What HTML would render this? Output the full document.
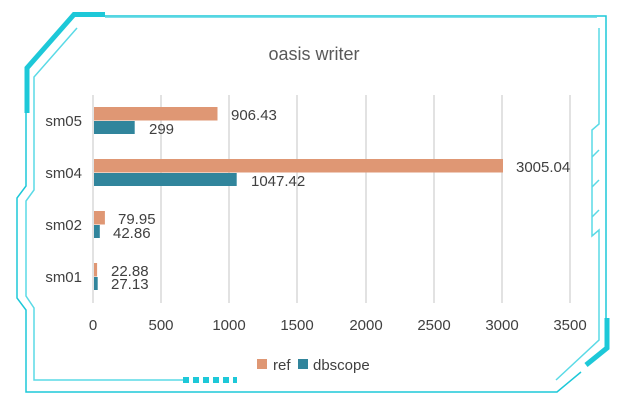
<!DOCTYPE html>
<html><head><style>body{margin:0;background:#fff}svg{display:block}text{font-family:"Liberation Sans",sans-serif}</style></head><body>
<svg width="628" height="414" viewBox="0 0 628 414" xmlns="http://www.w3.org/2000/svg">
<g fill="none" stroke="#1DC8D8">
<path d="M105 16 H606 V318" stroke-width="1.5"/>
<path d="M105 17.5 H597" stroke="#7FE0EA" stroke-width="1"/>
<path d="M105 14.5 H74 L27 68 V113" stroke="#1DC8D8" stroke-width="5"/>
<path d="M77 28 L34 77 V190 L26 201 V296 L34 308 V380 H183" stroke="#5ADAE6" stroke-width="1.5"/>
<path d="M26 113 V186 L17 198 V298 L26 310 V392 H557 L581 372" stroke-width="1.5"/>
<path d="M599 28 V124 L592 130 V236 L599 230 V340 L556 380" stroke="#5ADAE6" stroke-width="1.5"/>
<path d="M599 150 L592 157 M599 180 L592 187 M599 210 L592 217" stroke="#5ADAE6" stroke-width="1.5"/>
<path d="M607 318 V348 L586 365" stroke-width="5"/>
<path d="M183 380 H237" stroke-width="6" stroke-dasharray="6 4"/>
</g>
<text x="314" y="60" text-anchor="middle" font-size="18" fill="#595959">oasis writer</text>
<g stroke="#D9D9D9" stroke-width="1.5">
<line x1="93" y1="95" x2="93" y2="303"/><line x1="161" y1="95" x2="161" y2="303"/><line x1="229" y1="95" x2="229" y2="303"/><line x1="297" y1="95" x2="297" y2="303"/><line x1="366" y1="95" x2="366" y2="303"/><line x1="434" y1="95" x2="434" y2="303"/><line x1="502" y1="95" x2="502" y2="303"/><line x1="570" y1="95" x2="570" y2="303"/>
</g>
<g fill="#DF9774">
<rect x="94" y="107" width="123.5" height="13.5"/>
<rect x="94" y="159" width="409" height="13.5"/>
<rect x="94" y="211" width="10.9" height="13.5"/>
<rect x="94" y="263" width="3.1" height="13.5"/>
</g>
<g fill="#31859C">
<rect x="94" y="121" width="40.7" height="13"/>
<rect x="94" y="173" width="142.7" height="13"/>
<rect x="94" y="225" width="5.8" height="13"/>
<rect x="94" y="277" width="3.7" height="13"/>
</g>
<g font-size="15" fill="#404040">
<text x="231" y="120">906.43</text><text x="149" y="134">299</text>
<text x="516" y="172">3005.04</text><text x="251" y="186">1047.42</text>
<text x="118" y="224">79.95</text><text x="113" y="238">42.86</text>
<text x="111" y="276">22.88</text><text x="111" y="289">27.13</text>
<g text-anchor="end"><text x="82" y="126">sm05</text><text x="82" y="178">sm04</text><text x="82" y="230">sm02</text><text x="82" y="282">sm01</text></g>
<g text-anchor="middle"><text x="93" y="330">0</text><text x="161" y="330">500</text><text x="229" y="330">1000</text><text x="297" y="330">1500</text><text x="366" y="330">2000</text><text x="434" y="330">2500</text><text x="502" y="330">3000</text><text x="570" y="330">3500</text></g>
<rect x="257" y="359" width="10" height="10" fill="#DF9774"/><text x="273" y="370">ref</text>
<rect x="298" y="359" width="10" height="10" fill="#31859C"/><text x="313" y="370">dbscope</text>
</g>
</svg>
</body></html>
